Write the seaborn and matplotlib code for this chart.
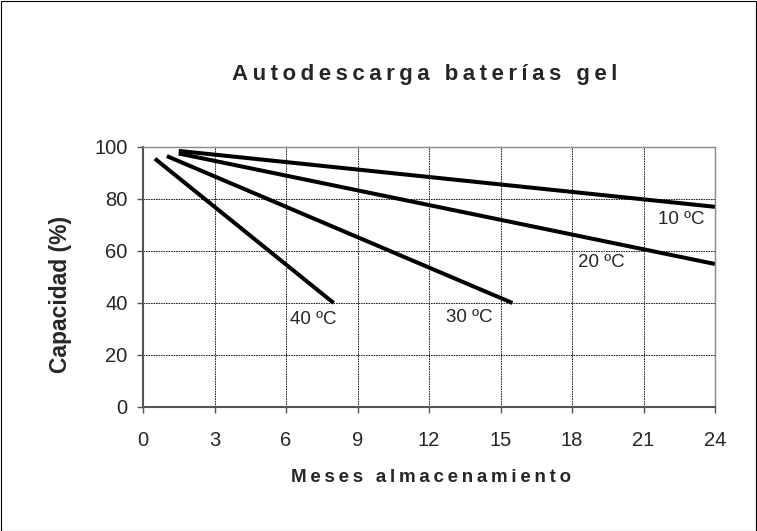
import pandas as pd
import matplotlib
matplotlib.use('Agg')
import matplotlib.pyplot as plt
import seaborn as sns

# datos (inicio y fin de cada recta)
temps = ['10 ºC', '20 ºC', '30 ºC', '40 ºC']
meses_10 = [1.5, 24]
cap_10 = [98.5, 77]
meses_20 = [1.5, 24]
cap_20 = [97.5, 55]
meses_30 = [1.0, 15.5]
cap_30 = [96.5, 40]
meses_40 = [0.5, 8.0]
cap_40 = [95.5, 40]

# posicion de las etiquetas (meses, capacidad)
label_x = [22.6, 19.25, 13.7, 7.15]
label_y = [72, 55.4, 34.6, 33.5]

x_ticks = [0, 3, 6, 9, 12, 15, 18, 21, 24]
y_ticks = [0, 20, 40, 60, 80, 100]

df = pd.concat([
    pd.DataFrame({'meses': meses_10, 'capacidad': cap_10, 'temp': temps[0]}),
    pd.DataFrame({'meses': meses_20, 'capacidad': cap_20, 'temp': temps[1]}),
    pd.DataFrame({'meses': meses_30, 'capacidad': cap_30, 'temp': temps[2]}),
    pd.DataFrame({'meses': meses_40, 'capacidad': cap_40, 'temp': temps[3]}),
], ignore_index=True)

sns.set_style('white')
plt.rcParams['font.family'] = ['Liberation Sans', 'DejaVu Sans']

fig = plt.figure(figsize=(7.57, 5.31), dpi=100)
ax = fig.add_axes([143 / 757, 1 - 407 / 531, (715 - 143) / 757, (407 - 147) / 531])

sns.lineplot(data=df, x='meses', y='capacidad', hue='temp', palette=['black'] * 4,
             linewidth=2.9, legend=False, ax=ax, solid_capstyle='butt')

for t, lx, ly in zip(temps, label_x, label_y):
    ax.text(lx, ly, t, fontsize=13.5, ha='center', va='center')

ax.set_xlim(0, 24)
ax.set_ylim(0, 100)
ax.set_xticks(x_ticks)
ax.set_yticks(y_ticks)
ax.tick_params(axis='both', labelsize=14.5, direction='out', length=4, width=1,
               color='#555555', bottom=True, left=True)
ax.tick_params(axis='x', pad=13)
ax.tick_params(axis='y', pad=7)
ax.grid(True, color='black', linestyle=(0, (2, 1)), linewidth=0.6)
for s in ['top', 'right']:
    ax.spines[s].set_color('#888888')
    ax.spines[s].set_linewidth(1)
for s in ['left', 'bottom']:
    ax.spines[s].set_color('#555555')
    ax.spines[s].set_linewidth(1.5)

ax.set_xlabel('')
ax.set_ylabel('')
sp = '\u2009'
fig.text(425 / 757, 1 - 80 / 531, sp.join('Autodescarga baterías gel'), fontsize=16,
         fontweight='bold', ha='center', va='baseline')
fig.text(431 / 757, 1 - 482 / 531, sp.join('Meses almacenamiento'), fontsize=13.5,
         fontweight='bold', ha='center', va='baseline')
fig.text(60 / 757, 1 - 294 / 531, 'Capacidad (%)', fontsize=16.5, fontweight='bold',
         ha='center', va='center', rotation=90)

fig.patches.append(plt.Rectangle((0.5 / 757, 0.5 / 531), 1 - 1.5 / 757, 1 - 1.5 / 531,
                                 transform=fig.transFigure, fill=False,
                                 edgecolor='black', linewidth=0.8))

fig.savefig('out.png', dpi=100)
